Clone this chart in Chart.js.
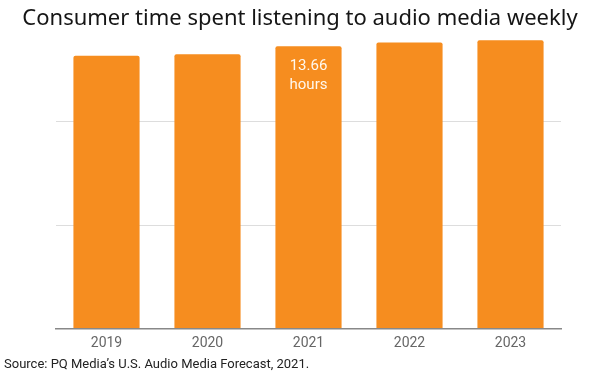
<!DOCTYPE html>
<html>
<head>
<meta charset="utf-8">
<script src="https://cdn.jsdelivr.net/npm/chart.js@4"></script>
<style>
  html, body { margin: 0; padding: 0; background: #fff; }
  #wrap { width: 600px; height: 375px; }
</style>
</head>
<body>
<div id="wrap"><canvas id="myChart" width="600" height="375"></canvas></div>
<script>
const years = ["2019", "2020", "2021", "2022", "2023"];
const hoursWeekly = [13.2, 13.27, 13.66, 13.84, 13.95];
const labelIndex = 2;
const labelLines = ["13.66", "hours"];

const barLabel = {
  id: "barLabel",
  afterDatasetsDraw(chart) {
    const bar = chart.getDatasetMeta(0).data[labelIndex];
    const c = chart.ctx;
    c.save();
    c.fillStyle = "#fff8ee";
    c.font = "15px Roboto";
    c.textAlign = "center";
    c.textBaseline = "middle";
    labelLines.forEach((t, i) => c.fillText(t, bar.x, bar.y + 20.5 + i * 18.6));
    c.restore();
  },
};

function draw() {
  const ctx = document.getElementById("myChart").getContext("2d");
  new Chart(ctx, {
    type: "bar",
    data: {
      labels: years,
      datasets: [
        {
          data: hoursWeekly,
          backgroundColor: "#f68d1f",
          borderRadius: 2,
          borderSkipped: "bottom",
          barPercentage: 0.655,
          categoryPercentage: 1,
        },
      ],
    },
    options: {
      responsive: false,
      animation: false,
      layout: { padding: { left: 4, right: 4, top: 0, bottom: 2 } },
      plugins: {
        legend: { display: false },
        tooltip: { enabled: false },
        title: {
          display: true,
          text: "Consumer time spent listening to audio media weekly",
          color: "#151515",
          font: { family: "'Noto Sans'", size: 22, weight: "normal" },
          padding: { top: 5.5, bottom: 1 },
        },
        subtitle: {
          display: true,
          position: "bottom",
          align: "start",
          text: "Source: PQ Media\u2019s U.S. Audio Media Forecast, 2021.",
          color: "#222",
          font: { family: "Roboto", size: 13 },
          padding: { top: 0, bottom: 0 },
        },
      },
      scales: {
        x: {
          grid: { display: false, drawTicks: false },
          border: { display: true, color: "#888", width: 1.5 },
          ticks: { color: "#666", font: { family: "Roboto", size: 14 }, padding: 6 },
        },
        y: {
          min: 0,
          max: 14.3,
          afterFit(axis) {
            axis.width = 52;
          },
          afterBuildTicks(axis) {
            axis.ticks = axis.ticks.filter((t) => t.value % 5 === 0);
          },
          ticks: { display: false, stepSize: 5 },
          grid: { color: "#dddddd", drawTicks: false },
          border: { display: false },
        },
        yRight: {
          position: "right",
          min: 0,
          max: 14.3,
          afterFit(axis) {
            axis.width = 35;
          },
          ticks: { display: false },
          grid: { display: false, drawTicks: false },
          border: { display: false },
        },
      },
    },
    plugins: [barLabel],
  });
}

Promise.all([
  document.fonts.load("22px 'Noto Sans'"),
  document.fonts.load("14px Roboto"),
]).then(draw, draw);
</script>
</body>
</html>
